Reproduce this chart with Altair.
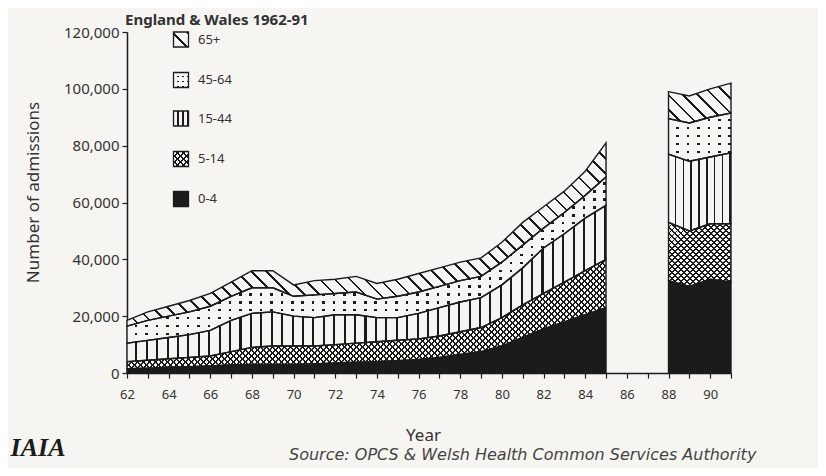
import altair as alt
import pandas as pd

# ---------------- data ----------------
years_a = list(range(62, 86))          # 1962-1985
years_b = [88, 89, 90, 91]             # 1988-1991
age_groups = ["0-4", "5-14", "15-44", "45-64", "65+"]

adm_0_4_a = [1500, 1700, 2000, 2200, 2500, 2800, 3000, 3000, 3000, 3200, 3500, 3800,
             4000, 4300, 4800, 5500, 6500, 7500, 9500, 12500, 15500, 18000, 20500, 23000]
adm_5_14_a = [2500, 2800, 3000, 3300, 3500, 4700, 6000, 6500, 6500, 6300, 6500, 6700,
              7000, 7200, 7200, 7500, 8000, 8500, 10000, 11500, 12500, 14000, 15500, 17000]
adm_15_44_a = [6500, 7000, 7500, 8000, 9000, 11000, 12000, 12000, 10500, 10000, 10500, 10000,
               8500, 8000, 9000, 10000, 10500, 10500, 11500, 13000, 16000, 17000, 18500, 19000]
adm_45_64_a = [6000, 7000, 7500, 8000, 8500, 8500, 9000, 8500, 7000, 8000, 7500, 8000,
               6500, 7500, 7500, 7500, 7500, 7500, 8000, 8000, 7000, 7500, 8000, 10000]
adm_65_a = [2000, 3000, 3500, 4000, 4500, 5000, 6000, 6000, 4000, 5000, 5000, 5500,
            5500, 6000, 6500, 6500, 6500, 6500, 7000, 8000, 7500, 7500, 8500, 12000]

adm_0_4_b = [32500, 30500, 33000, 32000]
adm_5_14_b = [20500, 19500, 19500, 20500]
adm_15_44_b = [24000, 24500, 23500, 25000]
adm_45_64_b = [12500, 13500, 14000, 14000]
adm_65_b = [9500, 9500, 10000, 10500]

y_ticks = [0, 20000, 40000, 60000, 80000, 100000, 120000]
title_text = "England & Wales 1962-91"
source_text = "Source:  OPCS & Welsh Health Common Services Authority"
logo_text = "IAIA"

# ---------------- table ----------------
rows = []
for seg, yrs, series in [
    ("a", years_a, [adm_0_4_a, adm_5_14_a, adm_15_44_a, adm_45_64_a, adm_65_a]),
    ("b", years_b, [adm_0_4_b, adm_5_14_b, adm_15_44_b, adm_45_64_b, adm_65_b]),
]:
    base = [0] * len(yrs)
    for age, vals in zip(age_groups, series):
        for i, yr in enumerate(yrs):
            rows.append(dict(seg=seg, year=yr, age=age, value=vals[i],
                             lower=base[i], upper=base[i] + vals[i]))
        base = [b + v for b, v in zip(base, vals)]
df = pd.DataFrame(rows)

# ---------------- style ----------------
BG = "#f7f5f2"
INK = "#1b1b1b"
CLEAR = "rgba(247,245,242,0)"
TXT = "#333333"
FONT = "Noto Sans"

W_PLOT, H_PLOT = 604, 341
PXY = W_PLOT / 29.0          # px per year
PXV = H_PLOT / 120000.0      # px per admission


def bands(n, frac, line, bg):
    n = max(1, int(round(n)))
    stops = []
    for i in range(n):
        a, b, c = i / n, (i + 1 - frac) / n, (i + 1) / n
        stops += [{"offset": a, "color": bg}, {"offset": b, "color": bg},
                  {"offset": b, "color": line}, {"offset": c, "color": line}]
    return stops


def grad_x(W, pitch, frac, line, bg):
    return {"gradient": "linear", "x1": 0, "y1": 0, "x2": 1, "y2": 0,
            "stops": bands(W / pitch, frac, line, bg)}


def grad_y(H, pitch, frac, line, bg):
    return {"gradient": "linear", "x1": 0, "y1": 0, "x2": 0, "y2": 1,
            "stops": bands(H / pitch, frac, line, bg)}


def grad_diag(W, H, pitch, frac, line, bg, back=True):
    c = (W + H) / (W * W + H * H)
    if back:   # "\" lines
        g = {"x1": 0, "y1": 1, "x2": c * W, "y2": 1 - c * H}
    else:      # "/" lines
        g = {"x1": 0, "y1": 0, "x2": c * W, "y2": c * H}
    g.update({"gradient": "linear", "stops": bands((W + H) / pitch, frac, line, bg)})
    return g


X = alt.X("year:Q", scale=alt.Scale(domain=[62, 91], nice=False, zero=False),
          axis=alt.Axis(values=list(range(62, 92)), format="d",
                        labelExpr="datum.value % 2 == 0 ? datum.label : ''",
                        labelOverlap=False, labelFlush=False,
                        labelFont=FONT, labelFontSize=13, labelColor=TXT,
                        labelPadding=10,
                        tickSize=5, tickColor=INK, tickWidth=1.2,
                        domainColor=INK, domainWidth=1.5, grid=False,
                        title="Year", titleFont=FONT, titleFontSize=17,
                        titleFontWeight="normal", titleColor=TXT,
                        titleX=296, titleY=62, titleAlign="center",
                        titleBaseline="middle"))
Y = alt.Y("upper:Q", scale=alt.Scale(domain=[0, 120000], nice=False), stack=None,
          axis=alt.Axis(values=y_ticks, format=",.0f",
                        labelFont=FONT, labelFontSize=15, labelColor=TXT,
                        labelPadding=3, tickSize=5, tickColor=INK, tickWidth=1.2,
                        domainColor=INK, domainWidth=1.5, grid=False,
                        title="Number of admissions", titleFont=FONT,
                        titleFontSize=17, titleFontWeight="normal", titleColor=TXT,
                        titleX=-94, titleY=160, titleAngle=270,
                        titleAlign="center", titleBaseline="middle"))
Y2 = alt.Y2("lower:Q")


def area(sub, fill):
    return alt.Chart(sub).mark_area(fill=fill, opacity=1, fillOpacity=1,
                                    strokeWidth=0, interpolate="linear").encode(
        x=X, y=Y, y2=Y2)


layers = []
for seg in ["a", "b"]:
    for age in age_groups:
        sub = df[(df.seg == seg) & (df.age == age)]
        W = (sub.year.max() - sub.year.min()) * PXY
        H = (sub.upper.max() - sub.lower.min()) * PXV
        if age == "0-4":
            layers.append(area(sub, INK))
        elif age == "5-14":
            layers.append(area(sub, grad_diag(W, H, 6.0, 0.3, INK, BG, back=False)))
            layers.append(area(sub, grad_diag(W, H, 6.0, 0.3, INK, CLEAR, back=True)))
        elif age == "15-44":
            pitch = 10.4 if seg == "a" else 8.0
            layers.append(area(sub, grad_x(W, pitch, 0.2, INK, BG)))
        elif age == "45-64":
            layers.append(area(sub, grad_x(W, 10.4, 0.25, INK, BG)))
            layers.append(area(sub, grad_y(H, 8.0, 0.3, CLEAR, BG)))
        else:
            layers.append(area(sub, grad_diag(W, H, 15.0, 0.18, INK, BG, back=True)))

outline = alt.Chart(df).mark_area(fillOpacity=0, stroke=INK, strokeWidth=1.4,
                                  interpolate="linear").encode(
    x=X, y=Y, y2=Y2, detail=["seg:N", "age:N"])
layers.append(outline)

# ---------------- legend ----------------
leg_df = pd.DataFrame({"age": age_groups})
leg_y = {"65+": 7.5, "45-64": 48, "15-44": 86.5, "5-14": 127, "0-4": 167}
S = 15.0
leg_fills = {
    "65+": [grad_diag(S, S, 15.0, 0.2, INK, BG, back=True)],
    "45-64": [grad_x(S, 5.0, 0.3, INK, BG), grad_y(S, 5.0, 0.3, CLEAR, BG)],
    "15-44": [grad_x(S, 5.0, 0.25, INK, BG)],
    "5-14": [grad_diag(S, S, 6.0, 0.3, INK, BG, back=False),
             grad_diag(S, S, 6.0, 0.3, INK, CLEAR, back=True)],
    "0-4": [INK],
}
for age in age_groups:
    base = alt.Chart(leg_df).transform_filter(alt.datum.age == age)
    for f in leg_fills[age]:
        layers.append(base.mark_square(size=S * S, fill=f, opacity=1, fillOpacity=1,
                                       strokeWidth=0).encode(
            x=alt.value(54), y=alt.value(leg_y[age])))
    layers.append(base.mark_square(size=S * S, fillOpacity=0, stroke=INK,
                                   strokeWidth=1.3).encode(
        x=alt.value(54), y=alt.value(leg_y[age])))
    layers.append(base.mark_text(align="left", baseline="middle", font=FONT,
                                 fontSize=13, color=TXT).encode(
        x=alt.value(71), y=alt.value(leg_y[age]), text="age:N"))

# ---------------- annotations ----------------
ann = pd.DataFrame({"t": [title_text, source_text, logo_text]})
layers.append(alt.Chart(ann).transform_filter(alt.datum.t == title_text).mark_text(
    align="left", baseline="middle", font=FONT, fontSize=15, fontWeight="bold",
    color=TXT).encode(x=alt.value(-2), y=alt.value(-12), text="t:N"))
layers.append(alt.Chart(ann).transform_filter(alt.datum.t == source_text).mark_text(
    align="left", baseline="alphabetic", font="DejaVu Sans", fontSize=16,
    fontStyle="italic", color="#444444").encode(
    x=alt.value(162), y=alt.value(428), text="t:N"))
layers.append(alt.Chart(ann).transform_filter(alt.datum.t == logo_text).mark_text(
    align="center", baseline="middle", font="Liberation Serif", fontSize=26,
    fontWeight="bold", fontStyle="italic", color=INK).encode(
    x=alt.value(-89), y=alt.value(416), text="t:N"))

chart = alt.layer(*layers).properties(
    width=W_PLOT, height=H_PLOT,
    autosize=alt.AutoSizeParams(type="none"),
    padding={"left": 119, "top": 24, "right": 87, "bottom": 95},
    background=BG,
).configure_view(stroke=None)

chart.save("out.html", embed_options={"renderer": "svg", "actions": False})
